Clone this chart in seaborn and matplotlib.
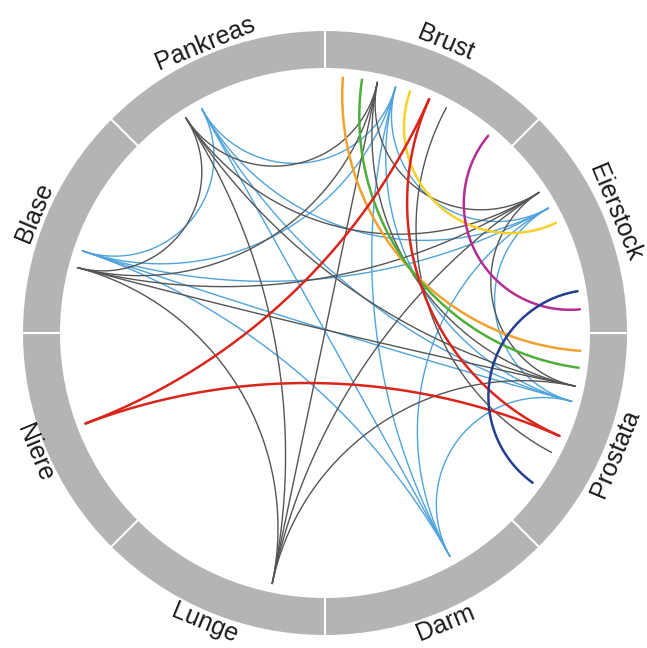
import numpy as np
import pandas as pd
import matplotlib
matplotlib.use("Agg")
import matplotlib.pyplot as plt
from matplotlib.patches import Wedge
import seaborn as sns

# Segments of the ring (clockwise from the top)
segments = ["Brust", "Eierstock", "Prostata", "Darm", "Lunge", "Niere", "Blase", "Pankreas"]

# Chord end points (angle in degrees, counter-clockwise from 3 o'clock)
node_names = ["B1", "B2", "B3", "B4", "B5", "B6", "B7", "B8",
              "E1", "E2", "E3", "E4", "E5",
              "P1", "P2", "P3", "P4", "P5", "P6", "P7",
              "D1", "L1", "N1", "Bl1", "Bl2", "Pa1", "Pa2"]
node_angles = [86.0, 81.7, 78.2, 74.0, 70.6, 66.0, 61.7, 50.4,
               33.3, 29.2, 25.5, 9.4, 5.3,
               -4.0, -7.8, -12.0, -15.5, -23.7, -27.8, -35.8,
               -60.8, -101.9, -159.3, 161.3, 165.2, 122.9, 118.8]

# Links: from, to, colour group
chord_from = ["Pa1", "Pa1", "Pa1", "Pa1", "Pa1", "Bl2", "Bl2", "Bl2", "Bl2", "L1", "L1", "L1", "B3", "B3", "E1", "B7",
              "Pa2", "Pa2", "Pa2", "Pa2", "Pa2", "Bl1", "Bl1", "Bl1", "Bl1", "D1", "D1", "D1", "B4", "B4", "E2",
              "B1", "B2", "B5", "B6", "B6", "N1", "B8", "E4"]
chord_to = ["Bl2", "L1", "B3", "E1", "P3", "L1", "B3", "E1", "P3", "B3", "E1", "P3", "E1", "P3", "P3", "P6",
            "Bl1", "D1", "B4", "E2", "P4", "D1", "B4", "E2", "P4", "B4", "E2", "P4", "E2", "P4", "P4",
            "P1", "P2", "E3", "N1", "P5", "P5", "E5", "P7"]
chord_group = ["grau"] * 16 + ["blau"] * 15 + ["orange", "gruen", "gelb", "rot", "rot", "rot", "magenta", "navy"]

palette = {"grau": "#555555", "blau": "#4fa3dc", "orange": "#f0a22e", "gruen": "#4fae3b",
           "gelb": "#f6d12a", "rot": "#d8261c", "magenta": "#b32d93", "navy": "#243f8f"}
widths = {"grau": 1.0, "blau": 1.0}

R_OUT, R_IN, R_END, R_LAB = 302, 265, 256, 314


def chord_xy(a, b, r=R_END, n=200):
    # arc orthogonal to the circle between the two end angles
    a, b = np.radians(a), np.radians(b)
    pa = r * np.array([np.cos(a), np.sin(a)])
    pb = r * np.array([np.cos(b), np.sin(b)])
    d = abs((b - a + np.pi) % (2 * np.pi) - np.pi)
    t = np.linspace(0, 1, n)
    if abs(d - np.pi) < np.radians(1.5):
        return pa[0] + t * (pb[0] - pa[0]), pa[1] + t * (pb[1] - pa[1])
    u = (pa + pb) / np.linalg.norm(pa + pb)
    cc = u * r / np.cos(d / 2)
    rad = r * np.tan(d / 2)
    p0 = np.arctan2(*(pa - cc)[::-1])
    p1 = np.arctan2(*(pb - cc)[::-1])
    dp = (p1 - p0 + np.pi) % (2 * np.pi) - np.pi
    phi = p0 + t * dp
    return cc[0] + rad * np.cos(phi), cc[1] + rad * np.sin(phi)


ang = dict(zip(node_names, node_angles))
rows = []
for i, (f, g, grp) in enumerate(zip(chord_from, chord_to, chord_group)):
    xs, ys = chord_xy(ang[f], ang[g])
    rows.append(pd.DataFrame({"x": xs, "y": ys, "chord": i, "group": grp}))
df = pd.concat(rows, ignore_index=True)

sns.set_theme(style="white")
plt.rcParams["font.family"] = ["Liberation Sans", "DejaVu Sans"]

fig = plt.figure(figsize=(6.47, 6.48), dpi=100)
ax = fig.add_axes([0, 0, 1, 1])

# ring
ax.add_patch(Wedge((0, 0), R_OUT, 0, 360, width=R_OUT - R_IN, facecolor="#b4b4b4", edgecolor="none"))
for i in range(8):
    th = np.radians(90 - 45 * i)
    ax.plot([(R_IN - 2) * np.cos(th), (R_OUT + 2) * np.cos(th)],
            [(R_IN - 2) * np.sin(th), (R_OUT + 2) * np.sin(th)], color="white", lw=1.5)

# labels
for i, name in enumerate(segments):
    th = 67.5 - 45 * i
    th = (th + 180) % 360 - 180
    rot = th - 90 if th > 0 else th + 90
    ax.text(R_LAB * np.cos(np.radians(th)), R_LAB * np.sin(np.radians(th)), name,
            rotation=rot, rotation_mode="anchor", ha="center", va="center",
            fontsize=18, color="#1a1a1a")

# chords: grey and blue first, coloured ones on top
for grp in ["blau", "grau", "orange", "gruen", "gelb", "rot", "magenta", "navy"]:
    sub = df[df["group"] == grp]
    sns.lineplot(data=sub, x="x", y="y", units="chord", estimator=None, sort=False,
                 color=palette[grp], lw=widths.get(grp, 1.8), ax=ax, legend=False)

ax.set_xlim(-325, 322)
ax.set_ylim(-315, 333)
ax.axis("off")
fig.savefig("out.png", dpi=100)
